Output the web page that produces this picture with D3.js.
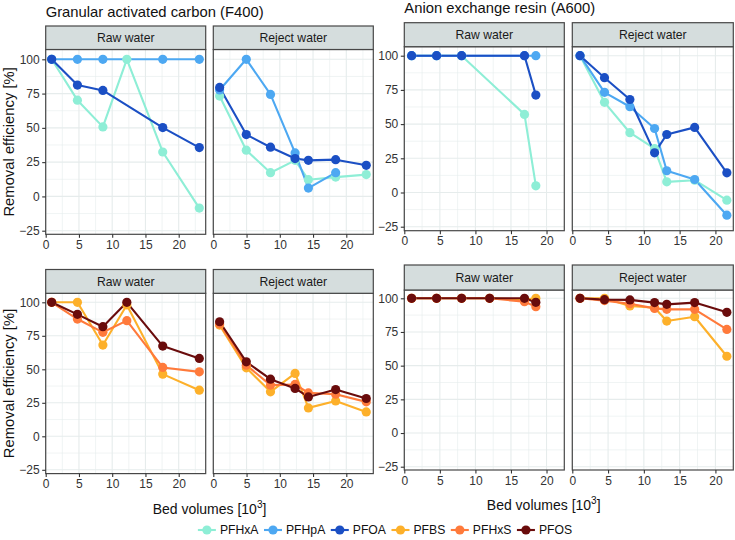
<!DOCTYPE html>
<html><head><meta charset="utf-8">
<script src="https://cdn.jsdelivr.net/npm/d3@7"></script>
<style>
body{margin:0;background:#fff;}
text{font-family:"Liberation Sans",Arial,sans-serif;}
</style></head>
<body><svg id="chart" width="735" height="540"></svg>
<script>
// ---------------- DATA ----------------
const compounds = ["PFHxA","PFHpA","PFOA","PFBS","PFHxS","PFOS"];
const palette = ["#8eeed6","#4da8f2","#1b4fc4","#fdb02a","#ff7a3b","#6a0c0c"];
const xTicks = [0,5,10,15,20];
const yTicks = [-25,0,25,50,75,100];
const stripLabels = ["Raw water","Reject water"];

// bed volumes [10^3]
const bvGacRaw    = [0.9, 4.77, 8.6, 12.2, 17.6, 23.1];
const bvGacReject = [0.95, 4.96, 8.6, 12.3, 14.3, 18.4, 23.0];
const bvAexRaw    = [1.03, 4.54, 8.06, 12.0, 16.9, 18.5];
const bvAexReject = [1.08, 4.5, 8.05, 11.5, 13.2, 17.1, 21.6];

// GAC (F400) raw water
const gacRawPFHxA = [100, 70.2, 50.7, 100, 32.4, -8.5];
const gacRawPFHpA = [100, 100, 100, null, 100, 100];
const gacRawPFOA  = [100, 81.2, 77.3, null, 50.2, 35.6];
const gacRawPFBS  = [100, 100, 68.1, 98, 46.4, 34.4];
const gacRawPFHxS = [100, 87.5, 77.6, 86.3, 51.4, 48.1];
const gacRawPFOS  = [100, 91.0, 81.8, 100, 67.3, 58.1];
// GAC (F400) reject water
const gacRejPFHxA = [73.2, 33.7, 17.3, 26.3, 12.2, 14.1, 15.9];
const gacRejPFHpA = [77.6, 100, 74.4, 31.7, 6.1, 17.3, null];
const gacRejPFOA  = [79.5, 45.1, 35.9, 27.6, 26.3, 26.8, 22.7];
const gacRejPFBS  = [83.0, 51.1, 33.2, 46.9, 21.2, 26.4, 18.2];
const gacRejPFHxS = [83.8, 53.1, 38.2, 38.7, 32.4, 31.4, 25.7];
const gacRejPFOS  = [85.5, 55.6, 42.6, 35.7, 29.4, 34.9, 28.2];
// AEX (A600) raw water
const aexRawPFHxA = [100, 100, 100, null, 57.1, 4.9];
const aexRawPFHpA = [100, 100, 100, null, 100, 100];
const aexRawPFOA  = [100, 100, 100, null, 100, 71.2];
const aexRawPFBS  = [100, 100, 100, 100, 99.0, 100];
const aexRawPFHxS = [100, 100, 100, 100, 97.5, 93.8];
const aexRawPFOS  = [100, 100, 100, 100, 100, 97.0];
// AEX (A600) reject water
const aexRejPFHxA = [100, 65.9, 43.7, 32.0, 7.8, 9.0, -5.6];
const aexRejPFHpA = [100, 73.2, 62.7, 46.8, 15.9, 9.5, -16.6];
const aexRejPFOA  = [100, 83.9, 68.0, 29.0, 42.4, 47.6, 14.4];
const aexRejPFBS  = [100, 100, 94.3, 93.0, 83.1, 86.3, 57.0];
const aexRejPFHxS = [100, 98.3, 96.0, 92.5, 91.8, 91.8, 76.9];
const aexRejPFOS  = [100, 99.0, 98.8, 96.8, 95.5, 96.8, 89.6];

// ---------------- LAYOUT ----------------
const svg = d3.select("#chart");
const FONT = '"Liberation Sans",Arial,sans-serif';

const groups = [
  { title: "Granular activated carbon (F400)", titleY: 17, yTitle: true,
    cols: [[45.7,205.7],[213.3,373.3]], xMax: 24.06,
    rows: [
      {stripTop:26, stripBot:49.5, bot:234.3, y100:59.3, yM25:230.7},
      {stripTop:269.5, stripBot:293.3, bot:473.6, y100:302.3, yM25:469.8}],
    xTitle: {x:209.5, y:514},
    bv: [bvGacRaw, bvGacReject],
    series: [
      [[gacRawPFHxA,gacRawPFHpA,gacRawPFOA],[gacRejPFHxA,gacRejPFHpA,gacRejPFOA]],
      [[gacRawPFBS,gacRawPFHxS,gacRawPFOS],[gacRejPFBS,gacRejPFHxS,gacRejPFOS]]
    ]},
  { title: "Anion exchange resin (A600)", titleY: 13, yTitle: false,
    cols: [[404.3,564.3],[572.3,733.3]], xMax: 22.5,
    rows: [
      {stripTop:22.7, stripBot:46.7, bot:230.7, y100:55.7, yM25:226.7},
      {stripTop:265, stripBot:290, bot:470, y100:298.3, yM25:466.7}],
    xTitle: {x:543.7, y:509.5},
    bv: [bvAexRaw, bvAexReject],
    series: [
      [[aexRawPFHxA,aexRawPFHpA,aexRawPFOA],[aexRejPFHxA,aexRejPFHpA,aexRejPFOA]],
      [[aexRawPFBS,aexRawPFHxS,aexRawPFOS],[aexRejPFBS,aexRejPFHxS,aexRejPFOS]]
    ]}
];

const gridCol = "#e6ecec";
const borderCol = "#474747";

groups.forEach(g => {
  svg.append("text").attr("x", g.cols[0][0]).attr("y", g.titleY)
    .attr("font-size", 14.8).attr("fill", "#111").text(g.title);

  g.rows.forEach((r, ri) => {
    const y = d3.scaleLinear().domain([-25,100]).range([r.yM25, r.y100]);
    if (g.yTitle) {
      svg.append("text")
        .attr("transform", `translate(14,${(r.stripBot + r.bot)/2}) rotate(-90)`)
        .attr("text-anchor","middle").attr("font-size",14.8).attr("fill","#111")
        .text("Removal efficiency [%]");
    }
    g.cols.forEach((c, ci) => {
      const x = d3.scaleLinear().domain([0, g.xMax]).range([c[0], c[1]]);
      const p = svg.append("g");
      p.append("rect").attr("x",c[0]).attr("y",r.stripBot).attr("width",c[1]-c[0])
        .attr("height",r.bot-r.stripBot).attr("fill","#fff");
      const yMinor = d3.range(-37.5, 110, 25).filter(v => y(v) > r.stripBot && y(v) < r.bot);
      const xMinor = d3.range(2.5, g.xMax, 5);
      p.selectAll(".ymn").data(yMinor).join("line")
        .attr("x1",c[0]).attr("x2",c[1]).attr("y1",d=>y(d)).attr("y2",d=>y(d))
        .attr("stroke",gridCol).attr("stroke-width",0.6);
      p.selectAll(".xmn").data(xMinor).join("line")
        .attr("y1",r.stripBot).attr("y2",r.bot).attr("x1",d=>x(d)).attr("x2",d=>x(d))
        .attr("stroke",gridCol).attr("stroke-width",0.6);
      p.selectAll(".ymj").data(yTicks).join("line")
        .attr("x1",c[0]).attr("x2",c[1]).attr("y1",d=>y(d)).attr("y2",d=>y(d))
        .attr("stroke",gridCol).attr("stroke-width",1.1);
      p.selectAll(".xmj").data(xTicks).join("line")
        .attr("y1",r.stripBot).attr("y2",r.bot).attr("x1",d=>x(d)).attr("x2",d=>x(d))
        .attr("stroke",gridCol).attr("stroke-width",1.1);

      const bv = g.bv[ci];
      const sers = g.series[ri][ci];
      const line = d3.line().x(d=>x(d.x)).y(d=>y(d.y));
      const pts = sers.map((vals, si) => ({
        color: palette[ri*3 + si],
        pts: vals.map((v,i)=>({x:bv[i], y:v})).filter(d => d.y !== null)
      }));
      pts.forEach(s => {
        p.append("path").datum(s.pts).attr("d", line).attr("fill","none")
          .attr("stroke", s.color).attr("stroke-width", 2.1).attr("stroke-linejoin","round");
      });
      pts.forEach(s => {
        p.selectAll(null).data(s.pts).join("circle")
          .attr("cx",d=>x(d.x)).attr("cy",d=>y(d.y)).attr("r",4.6).attr("fill", s.color);
      });

      p.append("rect").attr("x",c[0]).attr("y",r.stripBot).attr("width",c[1]-c[0])
        .attr("height",r.bot-r.stripBot).attr("fill","none")
        .attr("stroke",borderCol).attr("stroke-width",1.2);
      p.append("rect").attr("x",c[0]).attr("y",r.stripTop).attr("width",c[1]-c[0])
        .attr("height",r.stripBot-r.stripTop).attr("fill","#d5dddd")
        .attr("stroke",borderCol).attr("stroke-width",1.2);
      p.append("text").attr("x",(c[0]+c[1])/2).attr("y",(r.stripTop+r.stripBot)/2+4.3)
        .attr("text-anchor","middle").attr("font-size",12.2).attr("fill","#1a1a1a")
        .text(stripLabels[ci]);

      const xa = p.append("g").attr("transform",`translate(0,${r.bot})`)
        .call(d3.axisBottom(x).tickValues(xTicks).tickSize(3.5).tickPadding(2.5).tickSizeOuter(0));
      xa.select(".domain").remove();
      xa.selectAll("line").attr("stroke","#333").attr("stroke-width",1.1);
      xa.selectAll("text").attr("font-size",12).attr("fill","#333").attr("font-family",FONT);

      if (ci === 0) {
        const ya = p.append("g").attr("transform",`translate(${c[0]},0)`)
          .call(d3.axisLeft(y).tickValues(yTicks).tickSize(3.5).tickPadding(2.5).tickSizeOuter(0));
        ya.select(".domain").remove();
        ya.selectAll("line").attr("stroke","#333").attr("stroke-width",1.1);
        ya.selectAll("text").attr("font-size",12).attr("fill","#333").attr("font-family",FONT);
      }
    });
  });

  const xt = svg.append("text").attr("x", g.xTitle.x).attr("y", g.xTitle.y)
    .attr("text-anchor","middle").attr("font-size",14).attr("fill","#111");
  xt.append("tspan").text("Bed volumes [10");
  xt.append("tspan").attr("dy",-6).attr("font-size",10).text("3");
  xt.append("tspan").attr("dy",6).text("]");
});

// legend
const leg = svg.append("g");
let lx = 0;
compounds.forEach((name, i) => {
  const it = leg.append("g");
  it.append("line").attr("x1",0).attr("x2",18).attr("y1",0).attr("y2",0)
    .attr("stroke",palette[i]).attr("stroke-width",2.1);
  it.append("circle").attr("cx",9).attr("cy",0).attr("r",4.6).attr("fill",palette[i]);
  const t = it.append("text").attr("x",22).attr("y",4.3).attr("font-size",12.2)
    .attr("fill","#111").text(name);
  const w = 22 + t.node().getComputedTextLength();
  it.attr("transform",`translate(${lx},530)`);
  lx += w + 5.5;
});
const totalW = lx - 5.5;
leg.attr("transform",`translate(${385 - totalW/2},0)`);
</script></body></html>
